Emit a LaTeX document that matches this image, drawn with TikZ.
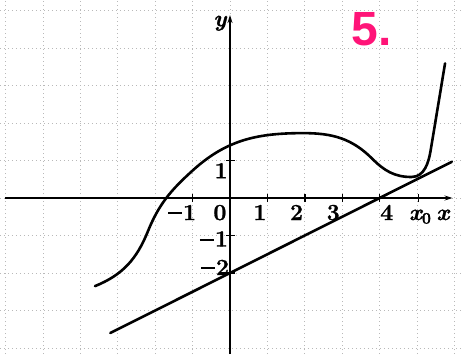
\documentclass[tikz,border=0pt]{standalone}
\usepackage{fontspec}
\newfontfamily\tagfont{Liberation Sans}
\newfontfamily\lblfont{Latin Modern Roman}[BoldFeatures={FakeBold=1.2},BoldItalicFeatures={FakeBold=1.2}]
\usetikzlibrary{arrows.meta}
\definecolor{tagpink}{RGB}{255,20,120}
\newcommand{\mns}{\rule[0.25em]{0.6em}{0.09em}\kern0.05em}
\begin{document}
\begin{tikzpicture}[x=1pt,y=1pt,
  gridline/.style={gray!55, line width=0.7pt, dash pattern=on 1pt off 3pt},
  axisline/.style={line width=1.6pt, -{Stealth[length=8pt,width=5pt]}},
  graphline/.style={line width=2.6pt, line cap=round},
  tickmark/.style={line width=1.4pt},
  lbl/.style={font=\lblfont\fontsize{23}{23}\selectfont\bfseries, inner sep=0pt}]
\useasboundingbox (0,0) rectangle (462,354);
\node[font=\tagfont\bfseries\fontsize{48}{48}\selectfont, text=tagpink, inner sep=0pt] (tag) at (372,325) {5.};
\begin{scope}[shift={(230,156)}, x=37.4pt, y=37.5pt]
  % grid
  \foreach \k in {-6,...,6} \draw[gridline] (\k,-4.16) -- (\k,5.28);
  \foreach \k in {-4,...,5} \draw[gridline] (-6.15,\k) -- (6.2,\k);
  % axes
  \draw[axisline] (-6.02,0) -- (5.95,0);
  \draw[axisline] (0,-4.16) -- (0,4.88);
  % ticks
  \foreach \k in {-1,1,2,3,4,5.04} \draw[tickmark] (\k,-0.11) -- (\k,0.11);
  \foreach \k in {1,-1,-2} \draw[tickmark] (-0.11,\k) -- (0.13,\k);
  % labels x
  \node[lbl, anchor=base] (lm1) at (-1.28,-0.587) {\mns 1};
  \node[lbl, anchor=base] (l0) at (-0.27,-0.587) {0};
  \node[lbl, anchor=base] (l1) at (0.8,-0.587) {1};
  \node[lbl, anchor=base] (l2) at (1.78,-0.587) {2};
  \node[lbl, anchor=base] (l3) at (2.76,-0.587) {3};
  \node[lbl, anchor=base] (l4) at (4.19,-0.587) {4};
  \node[lbl, anchor=base] (lx0) at (5.08,-0.587) {\itshape x\raisebox{-3.5pt}{\upshape\fontsize{16}{16}\selectfont 0}};
  \node[lbl, anchor=base] (lx) at (5.69,-0.587) {\itshape x};
  % labels y
  \node[lbl] (ly1) at (-0.24,0.73) {1};
  \node[lbl] (lym1) at (-0.43,-1.09) {\mns 1};
  \node[lbl] (lym2) at (-0.4,-1.85) {\mns 2};
  \node[lbl] (ly) at (-0.27,4.66) {\itshape y};
  % line
  \draw[graphline] (-3.2,-3.6) -- (5.93,0.965);
  % curve
  \draw[graphline] (-3.61,-2.35) to[out=22,in=-112] (-2.2,-0.9)
    to[out=68,in=-138] (-0.98,0.75)
    to[out=42,in=180] (1.96,1.73)
    to[out=0,in=135] (3.8,1.05)
    to[out=-45,in=180] (4.85,0.56)
    to[out=0,in=-99] (5.37,1.3)
    -- (5.75,3.59);
\end{scope}
\end{tikzpicture}
\end{document}
